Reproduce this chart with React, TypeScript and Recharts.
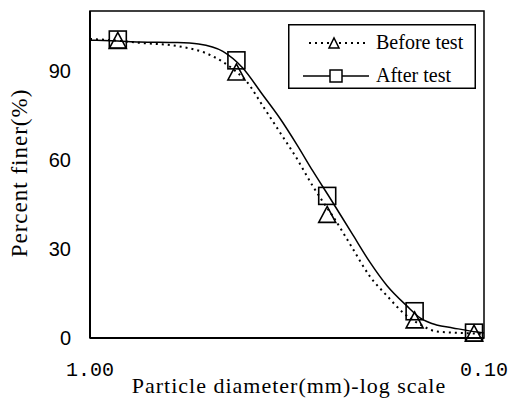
import React from "react";
import {
  ComposedChart,
  Line,
  Scatter,
  XAxis,
  YAxis,
  ReferenceArea,
  Legend,
} from "recharts";

// sieve sizes (mm) where tests were measured
const sieveSizes = [0.85, 0.425, 0.25, 0.15, 0.106];
const beforeFiner = [100.1, 89.5, 41.6, 6.1, 1.6];
const afterFiner = [100.4, 93.4, 47.8, 9.0, 1.8];

// fitted curves
const beforeCurveD = [1.0, 0.85, 0.75, 0.6, 0.49, 0.434, 0.4, 0.364, 0.33, 0.298, 0.272, 0.256, 0.242, 0.215, 0.195, 0.176, 0.161, 0.145, 0.132, 0.115, 0.1];
const beforeCurveV = [100.6, 100.0, 99.3, 98.2, 94.9, 90.5, 86.2, 78.0, 69.3, 60.2, 51.1, 45.7, 41.0, 29.9, 20.8, 14.1, 8.7, 4.5, 2.2, 1.7, 1.4];
const afterCurveD = [1.0, 0.85, 0.75, 0.6, 0.53, 0.46, 0.41, 0.365, 0.33, 0.298, 0.272, 0.246, 0.215, 0.195, 0.176, 0.157, 0.145, 0.132, 0.12, 0.104, 0.1];
const afterCurveV = [100.2, 99.9, 99.6, 99.4, 98.9, 96.4, 90.9, 81.9, 74.0, 64.9, 56.2, 47.1, 34.6, 25.6, 17.5, 10.8, 6.7, 4.4, 3.4, 2.0, 1.7];

const xTicks = [1, 0.1];
const yTicks = [0, 30, 60, 90];

const xTitle = "Particle diameter(mm)-log scale";
const yTitle = "Percent finer(%)";

const zip = (ds: number[], vs: number[]) => ds.map((d, i) => ({ d, v: vs[i] }));

const beforePts = zip(sieveSizes, beforeFiner);
const afterPts = zip(sieveSizes, afterFiner);
const beforeCurve = zip(beforeCurveD, beforeCurveV);
const afterCurve = zip(afterCurveD, afterCurveV);

const serif = '"Liberation Serif", "Times New Roman", serif';

const Triangle = (props: any) => {
  const { cx, cy } = props;
  const w = 17, h = 16;
  return (
    <polygon
      points={`${cx - w / 2},${cy + h / 2} ${cx + w / 2},${cy + h / 2} ${cx},${cy - h / 2}`}
      fill="none"
      stroke="#000"
      strokeWidth={1.6}
    />
  );
};

const Square = (props: any) => {
  const { cx, cy } = props;
  const s = 17;
  return <rect x={cx - s / 2} y={cy - s / 2} width={s} height={s} fill="none" stroke="#000" strokeWidth={1.6} />;
};

function LegendBox() {
  return (
    <svg width={188} height={65} style={{ display: "block" }}>
      <rect x={0.75} y={0.75} width={186.5} height={63.5} fill="#fff" stroke="#000" strokeWidth={1.5} />
      <line x1={21} x2={81} y1={19} y2={19} stroke="#000" strokeWidth={1.8} strokeDasharray="2 4" />
      <polygon points="41,24 51,24 46,14" fill="#fff" stroke="#000" strokeWidth={1.5} />
      <text x={88} y={25} style={{ fontFamily: serif, fontSize: 20 }} fill="#000">Before test</text>
      <line x1={15} x2={81} y1={52} y2={52} stroke="#000" strokeWidth={1.4} />
      <rect x={42} y={46} width={12} height={12} fill="#fff" stroke="#000" strokeWidth={1.5} />
      <text x={88} y={58} style={{ fontFamily: serif, fontSize: 20 }} fill="#000">After test</text>
    </svg>
  );
}

export default function App() {
  return (
    <div style={{ position: "absolute", left: 0, top: 0, width: 508, height: 401, background: "#fff" }}>
      <ComposedChart width={508} height={401} margin={{ top: 11, right: 24, left: 0, bottom: 0 }}>
        <XAxis
          dataKey="d"
          type="number"
          scale="log"
          domain={[0.1, 1]}
          allowDataOverflow
          reversed
          ticks={xTicks}
          tickFormatter={(v: number) => v.toFixed(2)}
          height={63}
          axisLine={{ stroke: "#000", strokeWidth: 2 }}
          tickLine={false}
          tickMargin={18}
          tick={{ fill: "#000", fontSize: 20, fontFamily: '"Liberation Mono", monospace' }}
        />
        <YAxis
          type="number"
          domain={[0, 110]}
          ticks={yTicks}
          width={90}
          axisLine={{ stroke: "#000", strokeWidth: 2 }}
          tickLine={false}
          tickMargin={13}
          tick={{ fill: "#000", fontSize: 20, fontFamily: '"Liberation Sans", Arial, sans-serif' }}
        />
        <ReferenceArea x1={1} x2={0.1} y1={0} y2={110} fill="none" stroke="#000" strokeWidth={1.5} />
        <Line
          data={beforeCurve}
          dataKey="v"
          type="monotone"
          stroke="#000"
          strokeWidth={2}
          strokeDasharray="2 4"
          dot={false}
          isAnimationActive={false}
        />
        <Line
          data={afterCurve}
          dataKey="v"
          type="monotone"
          stroke="#000"
          strokeWidth={1.5}
          dot={false}
          isAnimationActive={false}
        />
        <Scatter data={beforePts} dataKey="v" shape={Triangle} isAnimationActive={false} />
        <Scatter data={afterPts} dataKey="v" shape={Square} isAnimationActive={false} />
        <Legend
          layout="vertical"
          align="center"
          verticalAlign="middle"
          wrapperStyle={{ left: 288, top: 24, width: 188, height: 65 }}
          content={() => <LegendBox />}
        />
      </ComposedChart>
      <div
        style={{
          position: "absolute",
          left: 89,
          top: 375,
          width: 400,
          textAlign: "center",
          fontFamily: serif,
          fontSize: 22,
          lineHeight: "22px",
          letterSpacing: 1,
          whiteSpace: "nowrap",
        }}
      >
        {xTitle}
      </div>
      <div
        style={{
          position: "absolute",
          left: -130,
          top: 160,
          width: 300,
          height: 26,
          lineHeight: "26px",
          textAlign: "center",
          fontFamily: serif,
          fontSize: 23,
          letterSpacing: 1,
          whiteSpace: "nowrap",
          transform: "rotate(-90deg)",
        }}
      >
        {yTitle}
      </div>
    </div>
  );
}
